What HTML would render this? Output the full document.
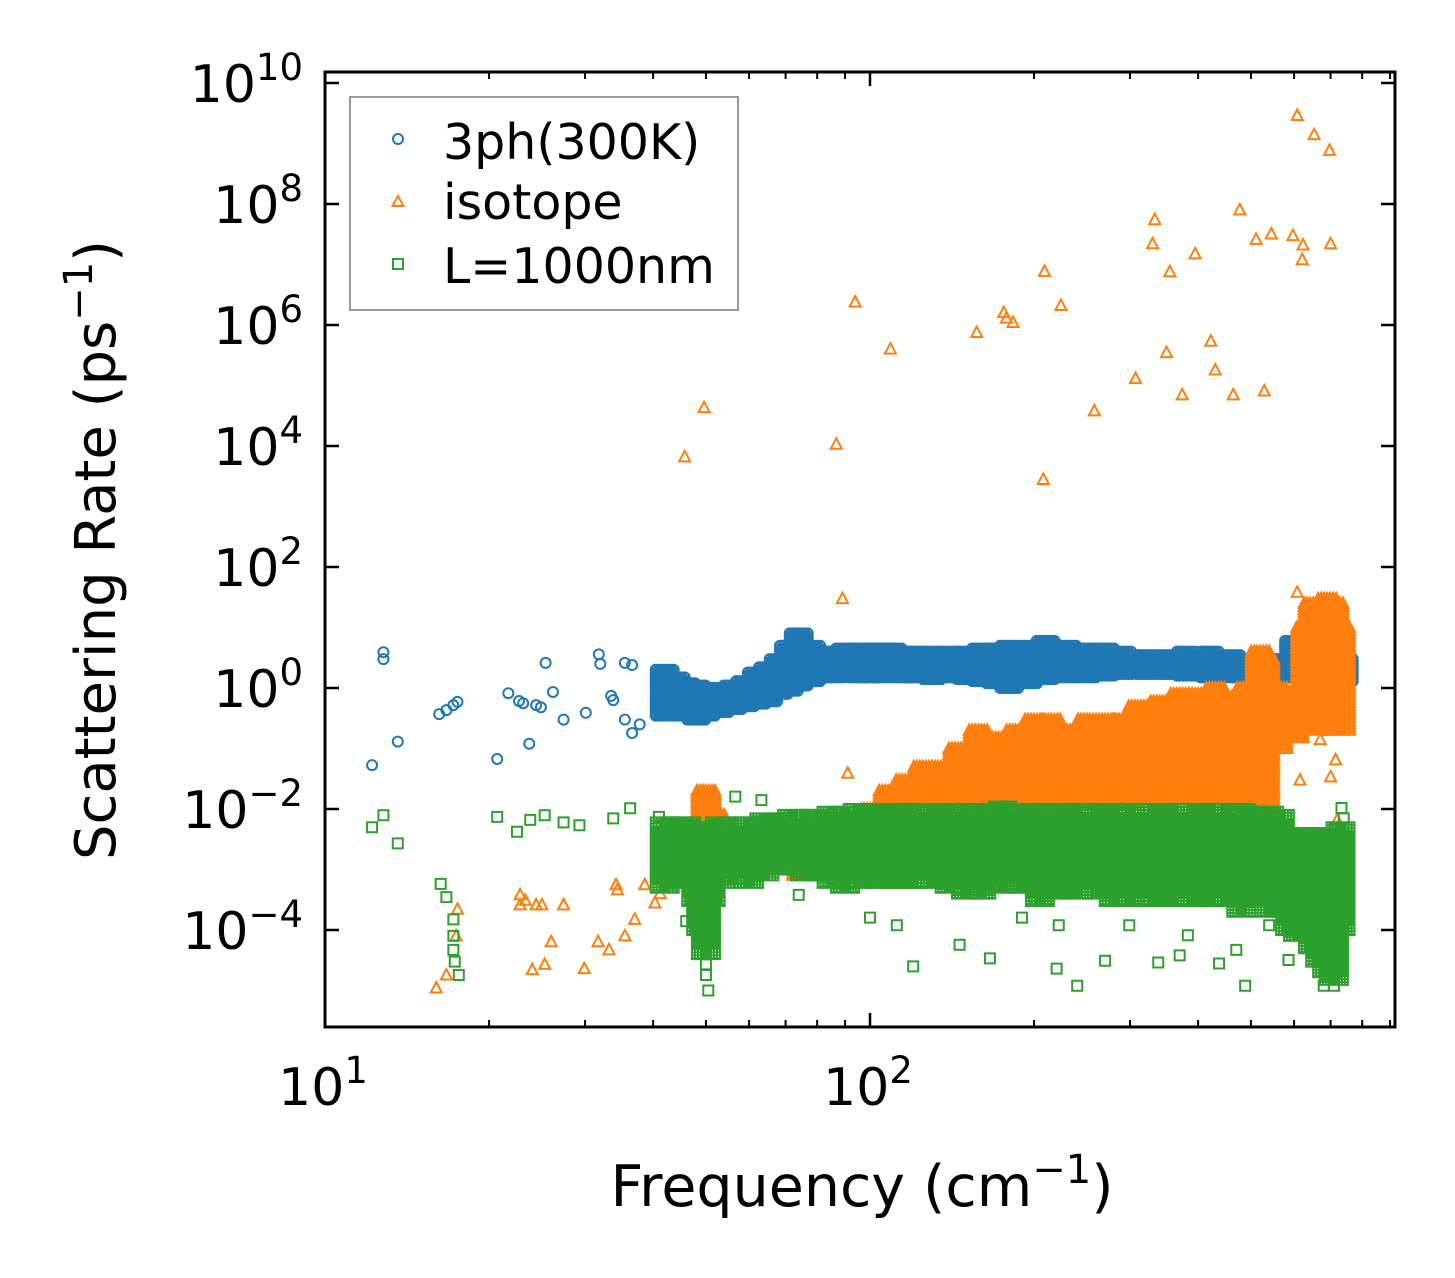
<!DOCTYPE html>
<html><head><meta charset="utf-8">
<style>
html,body{margin:0;padding:0;background:#fff;}
svg{display:block;font-family:"DejaVu Sans","Liberation Sans",sans-serif;}
</style></head>
<body>
<svg id="chart" width="1455" height="1278" viewBox="0 0 1455 1278" xmlns="http://www.w3.org/2000/svg">
<rect x="0" y="0" width="1455" height="1278" fill="#fff"/>
<g id="marks"></g>
<g id="axes"></g>
<text x="862" y="1206" font-size="57" text-anchor="middle">Frequency (cm<tspan dy="-23" font-size="40">−1</tspan><tspan dy="23">)</tspan></text>
<text transform="translate(115,550) rotate(-90)" font-size="56" text-anchor="middle">Scattering Rate (ps<tspan dy="-23" font-size="40">−1</tspan><tspan dy="23">)</tspan></text>
<g>
<rect x="350" y="97" width="388" height="213" fill="#fff" stroke="#999" stroke-width="2"/>
<circle cx="398" cy="139" r="5" fill="none" stroke="#1f77b4" stroke-width="2"/>
<text x="443" y="159" font-size="49">3ph(300K)</text>
<path d="M398,196 L403.5,206 L392.5,206 Z" fill="none" stroke="#ff7f0e" stroke-width="2"/>
<text x="443" y="219" font-size="49">isotope</text>
<rect x="393" y="259" width="10" height="10" fill="none" stroke="#2ca02c" stroke-width="2"/>
<text x="443" y="283" font-size="49">L=1000nm</text>
</g>
</svg>
<script>
// ---- data ----
const blueBandF=[42,44,46,48,50,53,56,59,62,65,68,71,74,78,82,86,90,95,100,105,110,115,120,130,140,150,160,170,180,195,210,230,250,270,290,320,350,380,420,460,500,540,580,600,620,650,680,710,740];
const blueBandLo=[0.35,0.4,0.35,0.3,0.35,0.4,0.45,0.5,0.55,0.6,0.8,0.9,1.1,1.3,1.5,1.5,1.6,1.5,1.5,1.5,1.6,1.5,1.5,1.4,1.5,1.4,1.3,1.2,1.0,1.2,1.4,1.5,1.5,1.6,1.7,1.7,1.7,1.6,1.5,1.5,1.4,1.4,1.5,1.6,1.8,1.4,1.2,1.2,1.3];
const blueBandHi=[2,1.5,1.2,1.1,1.0,1.0,1.1,1.3,1.8,2.2,3,5,8,5,4,4,4.5,4.5,4.5,4.5,4.5,4,4,4,4,4,4.5,4.5,5,5,6,5,4.5,4.5,4,3.5,3.5,4,4,3.5,3,3,3,6,4,4,5,3,3];
const blueF=[12.2,12.8,12.8,13.6,16.2,16.7,17.2,17.5,20.7,21.7,22.7,23.1,23.7,24.4,24.9,25.4,26.2,27.4,30.1,31.8,32,33.5,35.5,36.6,35.5,36.6,37.8,33.8,740];
const blueV=[0.053,3.9,3,0.13,0.37,0.43,0.52,0.59,0.067,0.82,0.61,0.56,0.12,0.52,0.48,2.6,0.86,0.3,0.39,3.6,2.5,0.74,2.6,2.4,0.3,0.18,0.25,0.63,2];

const orBandF=[48,50,52,55,58,62,66,70,75,80,86,92,100,108,116,125,135,145,158,170,185,200,215,230,250,270,290,310,340,370,400,430,460,490,510,520,530,560,600,630,650,670,690,710,730];
const orBandLo=[0.002,0.003,0.004,0.003,0.002,0.002,0.002,0.001,0.0008,0.0012,0.002,0.003,0.005,0.005,0.006,0.006,0.008,0.008,0.01,0.01,0.01,0.01,0.01,0.01,0.012,0.012,0.012,0.015,0.015,0.015,0.015,0.015,0.015,0.012,0.015,0.03,0.01,0.1,0.15,0.3,0.2,0.3,0.3,0.2,0.2];
const orBandHi=[0.004,0.02,0.008,0.004,0.004,0.004,0.003,0.003,0.003,0.004,0.006,0.008,0.01,0.02,0.03,0.05,0.05,0.1,0.2,0.15,0.2,0.3,0.3,0.2,0.3,0.3,0.3,0.5,0.6,0.8,0.8,1.0,0.7,1.0,0.8,4,3,1,0.8,10,25,10,30,25,10];
const orF=[45.7,49.6,86.7,93.9,109,157,176,178,183,209,208,224,258,307,333,330,355,350,374,395,422,430,464,477,511,529,545,597,608,621,623,653,697,700,89,608,
 16.0,16.7,17.4,17.5,22.8,22.8,23.3,24.4,25,24,25.3,27.4,26,29.9,31.7,33.2,34.4,35.5,37,40.3,41.2,34.2,38.6,91,720,715,700,720,615,670];
const orV=[6600,4.3e4,1.07e4,2.4e6,4e5,7.5e5,1.6e6,1.3e6,1.1e6,7.7e6,2800,2.1e6,3.8e4,1.3e5,5.5e7,2.2e7,7.6e6,3.5e5,7.0e4,1.5e7,5.4e5,1.8e5,7.0e4,8.0e7,2.6e7,8.1e4,3.2e7,3.0e7,2.9e9,1.2e7,2.1e7,1.4e9,7.7e8,2.2e7,30,38,
 1.1e-5,1.8e-5,8e-5,2.2e-4,2.6e-4,3.8e-4,3.1e-4,2.6e-4,2.6e-4,2.2e-5,2.7e-5,2.6e-4,6.4e-5,2.3e-5,6.4e-5,4.7e-5,4.6e-4,8e-5,1.5e-4,2.8e-4,4e-4,5.6e-4,5.6e-4,0.039,0.3,0.065,0.034,0.0066,0.03,0.14];

const grBandF=[42,44,46,48,49,50,51,53,56,60,64,68,72,76,80,85,90,95,100,105,110,115,120,130,140,150,160,175,190,205,220,240,260,280,300,330,360,390,420,450,480,510,540,565,590,610,630,650,670,690,710,730];
const grBandLo=[0.0005,0.0006,0.0006,0.0003,0.0001,0.00004,0.0003,0.0006,0.0007,0.0006,0.0008,0.001,0.001,0.0008,0.0008,0.0006,0.0005,0.0006,0.0007,0.0006,0.0006,0.0006,0.0006,0.0006,0.0005,0.0004,0.0004,0.0005,0.0005,0.0003,0.0004,0.0004,0.0004,0.0003,0.0003,0.0003,0.0003,0.0003,0.0003,0.0003,0.0002,0.0003,0.0002,0.0002,0.0001,0.00008,0.0001,0.00005,0.00003,0.00002,0.000015,0.0001];
const grBandHi=[0.006,0.006,0.006,0.005,0.004,0.005,0.005,0.006,0.006,0.006,0.007,0.007,0.008,0.008,0.008,0.009,0.009,0.01,0.01,0.01,0.01,0.01,0.01,0.01,0.01,0.01,0.01,0.011,0.01,0.01,0.01,0.01,0.01,0.01,0.01,0.01,0.01,0.01,0.01,0.01,0.01,0.009,0.009,0.008,0.004,0.004,0.004,0.004,0.004,0.004,0.004,0.005];
const grF=[12.2,12.8,13.6,16.3,16.7,17.2,17.2,17.2,17.3,17.6,20.7,22.5,23.8,25.3,27.4,29.3,33.8,36.3,41,46,50,50,50.5,50,56.6,63.2,74,100,120,112,146,166,220,240,270,338,370,437,488,470,383,190,222,299,540,586,680,710,740,718,733];
const grV=[0.005,0.0079,0.0027,5.8e-4,3.5e-4,1.5e-4,8e-5,4.7e-5,3e-5,1.8e-5,0.0074,0.0042,0.0066,0.0079,0.006,0.0054,0.007,0.0103,0.0074,1.4e-4,8e-5,2.7e-5,1e-5,1.8e-5,0.016,0.014,3.8e-4,1.6e-4,2.5e-5,1.2e-4,5.7e-5,3.4e-5,2.3e-5,1.2e-5,3.1e-5,2.9e-5,3.8e-5,2.8e-5,1.2e-5,4.7e-5,8.2e-5,1.6e-4,1.2e-4,1.2e-4,1.2e-4,3.2e-5,1.2e-5,1.2e-5,0.007,0.0049,0.0104];

const xTickVals=[10,100];
const xTickLabels=["1","2"];
const yTickVals=[1e-4,1e-2,1,1e2,1e4,1e6,1e8,1e10];
const yTickLabels=["−4","−2","0","2","4","6","8","10"];

// ---- axes functions ----
const L=325,R=1395,T=72,B=1027;
function X(f){return 325+545*(Math.log10(f)-1);}
function Y(v){return 688-60.5*Math.log10(v);}
const NS="http://www.w3.org/2000/svg";
const marks=document.getElementById('marks');
const axes=document.getElementById('axes');

function shapePath(shape,x,y){
  if(shape==='circle') return `M${x-5},${y}a5,5 0 1,0 10,0a5,5 0 1,0 -10,0`;
  if(shape==='tri') return `M${x},${y-6}L${x+5.5},${y+4.5}L${x-5.5},${y+4.5}Z`;
  return `M${x-5},${y-5}h10v10h-10Z`;
}
function drawBand(fs,lo,hi,shape,color,name){
  for(let i=0;i<fs.length;i++){
    const x=X(fs[i]),y1=Y(hi[i]),y2=Y(lo[i]);
    let d='';
    for(const dx of [-9,-6,-3,0,3,6,9]){
      for(let y=y1;y<=y2+0.1;y+=3) d+=shapePath(shape,x+dx,y);
      d+=shapePath(shape,x+dx,y2);
    }
    const p=document.createElementNS(NS,'path');
    p.setAttribute('d',d);p.setAttribute('fill','none');p.setAttribute('stroke',color);p.setAttribute('stroke-width','2');
    
    
    marks.appendChild(p);
  }
}
function drawPoints(fs,vs,shape,color,name){
  for(let i=0;i<fs.length;i++){
    const p=document.createElementNS(NS,'path');
    p.setAttribute('d',shapePath(shape,X(fs[i]),Y(vs[i])));
    p.setAttribute('fill','none');p.setAttribute('stroke',color);p.setAttribute('stroke-width','2');
    
    
    marks.appendChild(p);
  }
}
drawBand(blueBandF,blueBandLo,blueBandHi,'circle','#1f77b4','3ph');
drawPoints(blueF,blueV,'circle','#1f77b4','3ph');
drawBand(orBandF,orBandLo,orBandHi,'tri','#ff7f0e','isotope');
drawPoints(orF,orV,'tri','#ff7f0e','isotope');
drawBand(grBandF,grBandLo,grBandHi,'square','#2ca02c','boundary');
drawPoints(grF,grV,'square','#2ca02c','boundary');

function line(x1,y1,x2,y2,w,name){
  const l=document.createElementNS(NS,'line');
  l.setAttribute('x1',x1);l.setAttribute('y1',y1);l.setAttribute('x2',x2);l.setAttribute('y2',y2);
  l.setAttribute('stroke','#000');l.setAttribute('stroke-width',w);
  
  
  axes.appendChild(l);
}
const fr=document.createElementNS(NS,'rect');
fr.setAttribute('x',L);fr.setAttribute('y',T);fr.setAttribute('width',R-L);fr.setAttribute('height',B-T);
fr.setAttribute('fill','none');fr.setAttribute('stroke','#000');fr.setAttribute('stroke-width','3');


axes.appendChild(fr);
for(let dec=10;dec<=100;dec*=10){
  for(let k=1;k<10;k++){
    const f=dec*k, x=X(f);
    if(x<L-1||x>R+1) continue;
    const len=k===1?14:7;
    line(x,B,x,B-len,k===1?2.5:2,'x-tick');
    line(x,T,x,T+len,k===1?2.5:2,'x-tick-top');
  }
}
xTickVals.forEach((v,i)=>{
  const t=document.createElementNS(NS,'text');
  t.setAttribute('x',X(v)-2);t.setAttribute('y',1105);t.setAttribute('font-size','52');t.setAttribute('text-anchor','middle');
  t.innerHTML=`10<tspan dy="-22" font-size="37">${xTickLabels[i]}</tspan>`;
  
  
  axes.appendChild(t);
});
yTickVals.forEach((v,i)=>{
  const y=Y(v);
  line(L,y,L+14,y,2.5,'y-tick');
  line(R,y,R-14,y,2.5,'y-tick-right');
  const t=document.createElementNS(NS,'text');
  t.setAttribute('x',303);t.setAttribute('y',y+19);t.setAttribute('font-size','52');t.setAttribute('text-anchor','end');
  t.innerHTML=`10<tspan dy="-22" font-size="37">${yTickLabels[i]}</tspan>`;
  
  
  axes.appendChild(t);
});
</script>
</body></html>
